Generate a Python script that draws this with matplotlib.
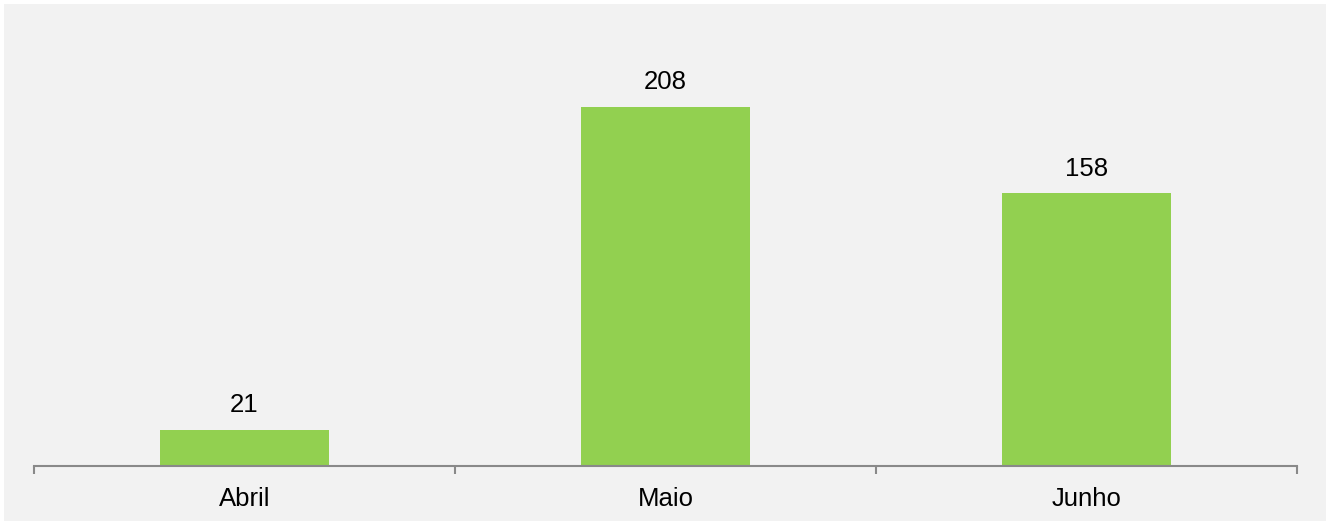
import numpy as np
import matplotlib
matplotlib.use("Agg")
import matplotlib.pyplot as plt
from matplotlib.patches import Rectangle

# dados
meses = ["Abril", "Maio", "Junho"]
valores = [21, 208, 158]

W, H, DPI = 1330, 525, 100
plt.rcParams['font.family'] = ['Liberation Sans', 'DejaVu Sans']

fig = plt.figure(figsize=(W / DPI, H / DPI), dpi=DPI)
fig.patch.set_facecolor("white")

# fundo cinza
fig.add_artist(Rectangle((4 / W, 4 / H), (1326 - 4) / W, (521 - 4) / H,
                         transform=fig.transFigure, facecolor="#F2F2F2",
                         edgecolor="none", zorder=0))

# eixo: x de 34 a 1297 px, base em y=466 px, topo em y=4 px
ax = fig.add_axes([34 / W, (H - 466) / H, (1297 - 34) / W, (466 - 4) / H])
ax.set_facecolor("none")

x = np.arange(len(meses))
ax.bar(x, valores, width=0.4, color="#92D050", zorder=2)

px_per_unit = 359 / 208
ax.set_xlim(-0.5, len(meses) - 0.5)
ax.set_ylim(0, (466 - 4) / px_per_unit)

for xi, v in zip(x, valores):
    ax.annotate(str(v), (xi, v), xytext=(0, 12.6), textcoords="offset points",
                ha="center", va="baseline", fontsize=18.5, color="black")

for s in ["top", "right", "left"]:
    ax.spines[s].set_visible(False)
ax.spines["bottom"].set_color("#898989")
ax.spines["bottom"].set_linewidth(1.5)

ax.set_yticks([])
ax.set_xticks(x)
ax.set_xticklabels(meses, fontsize=18.5)
ax.tick_params(axis="x", which="major", length=0, pad=15)
ax.set_xticks(np.arange(-0.5, len(meses)), minor=True)
ax.tick_params(axis="x", which="minor", length=6, width=1.5, color="#898989",
               direction="out")

fig.savefig("out.png", dpi=DPI)
